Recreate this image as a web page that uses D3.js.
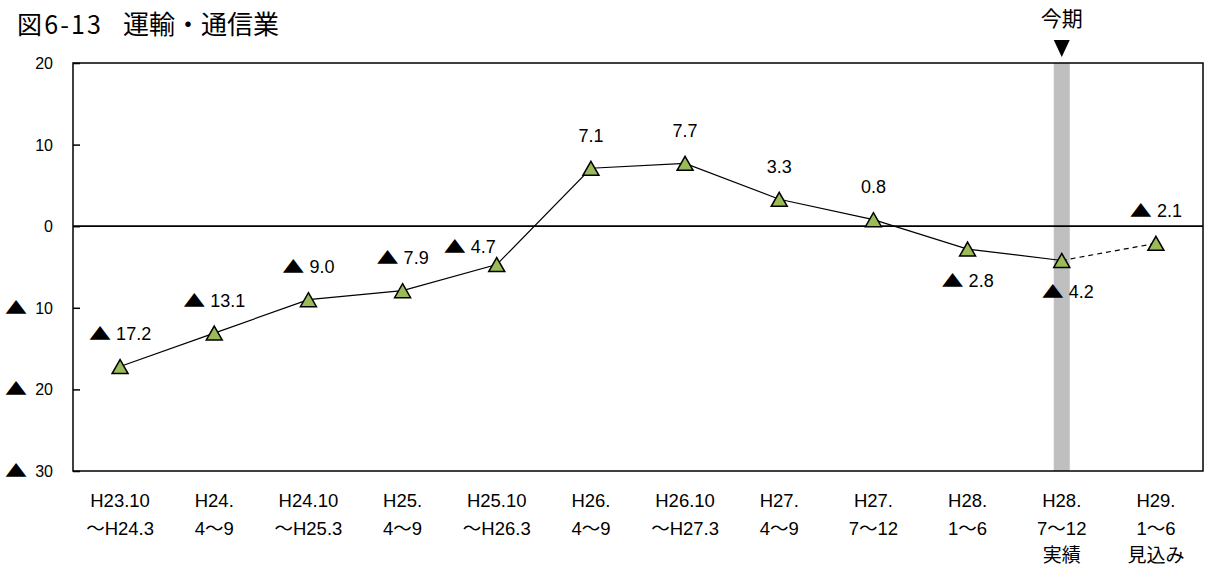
<!DOCTYPE html>
<html>
<head>
<meta charset="utf-8">
<script src="https://cdn.jsdelivr.net/npm/d3@7"></script>
<style>
  html, body { margin: 0; padding: 0; background: #fff; }
  svg { display: block; }
</style>
</head>
<body>
<svg id="chart" width="1212" height="569"></svg>
<script>
// ---- data ----
const titleNumber = "図6-13";
const titleName = "運輸・通信業";
const categoriesLine1 = ["H23.10", "H24.", "H24.10", "H25.", "H25.10", "H26.", "H26.10", "H27.", "H27.", "H28.", "H28.", "H29."];
const categoriesLine2 = ["～H24.3", "4～9", "～H25.3", "4～9", "～H26.3", "4～9", "～H27.3", "4～9", "7～12", "1～6", "7～12", "1～6"];
const categoriesLine3 = ["", "", "", "", "", "", "", "", "", "", "実績", "見込み"];
const values = [-17.2, -13.1, -9.0, -7.9, -4.7, 7.1, 7.7, 3.3, 0.8, -2.8, -4.2, -2.1];
const yTicks = [20, 10, 0, -10, -20, -30];
const currentIndex = 10;          // 今期 (H28. 7～12 実績)
const forecastIndex = 11;         // 見込み (dashed segment)
const currentLabel = "今期";
const negMark = "▲";

// ---- layout ----
const svg = d3.select("#chart");
const plot = { left: 73, right: 1203, top: 63, bottom: 471 };
const latin = "'Liberation Sans', Arial, 'Noto Sans CJK JP', sans-serif";
const cjk = "'Noto Sans CJK JP', sans-serif";

const x = d3.scaleBand().domain(d3.range(values.length)).range([plot.left, plot.right]).padding(0);
const cx = i => x(i) + x.bandwidth() / 2;
const y = d3.scaleLinear().domain([-30, 20]).range([plot.bottom, plot.top]);

// a "▲ n" style label: number as text, ▲ as a separate (widened) text glyph
function markLabel(parent, negative, numStr, fontSize, align, gap) {
  const g = parent.append("g");
  const num = g.append("text").attr("x", 0).attr("y", 0)
    .attr("font-family", latin).attr("font-size", fontSize).attr("fill", "#000").text(numStr);
  const numW = num.node().getComputedTextLength();
  let triW = 0, tri = null;
  if (negative) {
    tri = g.append("text").attr("text-anchor", "start")
      .attr("font-family", cjk).attr("font-size", 17).attr("fill", "#000").text(negMark);
    triW = tri.node().getComputedTextLength() * 1.3;
  }
  const total = negative ? triW + gap + numW : numW;
  const start = align === "middle" ? -total / 2 : -total; // "end" => right-aligned at 0
  if (negative) {
    tri.attr("transform", `translate(${start},0) scale(1.3,1)`);
    num.attr("x", start + triW + gap);
  } else {
    num.attr("x", start);
  }
  return g;
}

// title
svg.append("text").attr("x", 17).attr("y", 34)
  .attr("font-family", cjk).attr("font-size", 25).attr("fill", "#000")
  .attr("textLength", 84).attr("lengthAdjust", "spacing").text(titleNumber);
svg.append("text").attr("x", 123).attr("y", 34)
  .attr("font-family", cjk).attr("font-size", 26).attr("fill", "#000").text(titleName);

// gray current-period bar
svg.append("rect")
  .attr("x", cx(currentIndex) - 8).attr("width", 16)
  .attr("y", plot.top).attr("height", plot.bottom - plot.top)
  .attr("fill", "#bfbfbf");

// 今期 marker above
svg.append("text").attr("x", cx(currentIndex)).attr("y", 26)
  .attr("text-anchor", "middle").attr("font-family", cjk).attr("font-size", 21).text(currentLabel);
svg.append("path")
  .attr("d", `M${cx(currentIndex) - 8},40 L${cx(currentIndex) + 8},40 L${cx(currentIndex)},57 Z`)
  .attr("fill", "#000");

// frame
svg.append("rect")
  .attr("x", plot.left).attr("y", plot.top)
  .attr("width", plot.right - plot.left).attr("height", plot.bottom - plot.top)
  .attr("fill", "none").attr("stroke", "#000").attr("stroke-width", 1.5);

// y axis (inner ticks)
const yAxis = d3.axisLeft(y).tickValues(yTicks).tickSize(-7).tickFormat("");
const gy = svg.append("g").attr("transform", `translate(${plot.left},0)`).call(yAxis);
gy.select(".domain").remove();
gy.selectAll(".tick line").attr("stroke", "#000").attr("stroke-width", 1.5);
yTicks.forEach(t => {
  const g = markLabel(svg, t < 0, String(Math.abs(t)), 16, "end", 8);
  g.attr("transform", `translate(53,${y(t) + 6})`);
});

// zero line
svg.append("line")
  .attr("x1", plot.left).attr("x2", plot.right)
  .attr("y1", y(0)).attr("y2", y(0))
  .attr("stroke", "#000").attr("stroke-width", 1.8);

// x labels
const xg = svg.append("g");
values.forEach((v, i) => {
  [categoriesLine1, categoriesLine2, categoriesLine3].forEach((arr, k) => {
    if (!arr[i]) return;
    xg.append("text").attr("x", cx(i)).attr("y", 507 + k * 27.5)
      .attr("text-anchor", "middle").attr("font-family", k === 2 ? cjk : latin)
      .attr("font-size", k === 2 ? 19 : 18.5).attr("fill", "#000").text(arr[i]);
  });
});

// line (solid for actuals, dashed to forecast)
const line = d3.line().x(d => cx(d.i)).y(d => y(d.v));
const pts = values.map((v, i) => ({ i, v }));
svg.append("path").datum(pts.slice(0, forecastIndex))
  .attr("d", line).attr("fill", "none").attr("stroke", "#000").attr("stroke-width", 1.2);
svg.append("path").datum(pts.slice(forecastIndex - 1))
  .attr("d", line).attr("fill", "none").attr("stroke", "#000").attr("stroke-width", 1.2)
  .attr("stroke-dasharray", "5,4");

// markers
svg.append("g").selectAll("path").data(pts).join("path")
  .attr("transform", d => `translate(${cx(d.i)},${y(d.v)})`)
  .attr("d", "M0,-7 L8,7 L-8,7 Z")
  .attr("fill", "#9bbb59").attr("stroke", "#000").attr("stroke-width", 1.5)
  .attr("stroke-linejoin", "miter");

// data labels
const placement = { 4: [-27, -18], 9: [0, 31], 10: [6, 31] };
pts.forEach(d => {
  const off = placement[d.i] || [0, -33];
  const g = markLabel(svg, d.v < 0, d3.format(".1f")(Math.abs(d.v)), 18, "middle", 5);
  g.attr("transform", `translate(${cx(d.i) + off[0]},${y(d.v) + off[1] + 6.5})`);
});
</script>
</body>
</html>
